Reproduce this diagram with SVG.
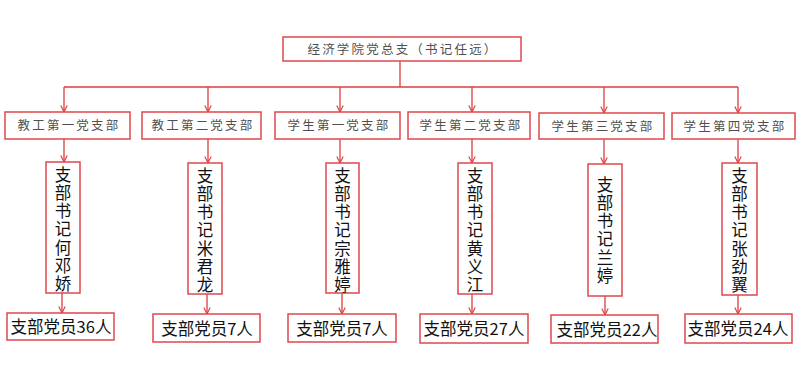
<svg xmlns="http://www.w3.org/2000/svg" width="797" height="378" viewBox="0 0 797 378">
<style>
.box{fill:#fff;stroke:#e0474c;stroke-width:1.5}
.ln{stroke:#dd3c40;stroke-width:1.3;fill:none}
.t1{font-family:"Noto Sans CJK SC","Noto Sans",sans-serif;font-size:12.5px;fill:#505050;letter-spacing:2.2px;text-anchor:middle}
.t2{font-family:"Noto Sans CJK SC","Liberation Sans",sans-serif;font-size:16.5px;fill:#111;text-anchor:middle}
.tv{font-family:"Noto Sans CJK SC","Liberation Sans",sans-serif;font-size:16.5px;fill:#111;writing-mode:vertical-rl;letter-spacing:1.8px}
</style>
<defs>
<marker id="ar" viewBox="0 0 10 10" refX="9" refY="5" markerWidth="8" markerHeight="8" orient="auto" markerUnits="userSpaceOnUse">
<path d="M1,1 L9,5 L1,9" fill="none" stroke="#dd3c40" stroke-width="1.4"/>
</marker>
</defs>
<g id="connectors">
<path class="ln" d="M400,61 V87 M64,87 H738"/>
<path class="ln" marker-end="url(#ar)" d="M64,87 V112"/>
<path class="ln" marker-end="url(#ar)" d="M208,87 V112"/>
<path class="ln" marker-end="url(#ar)" d="M340,87 V112"/>
<path class="ln" marker-end="url(#ar)" d="M472,87 V112"/>
<path class="ln" marker-end="url(#ar)" d="M604,87 V113"/>
<path class="ln" marker-end="url(#ar)" d="M738,87 V113"/>
<path class="ln" marker-end="url(#ar)" d="M64,139 V162"/>
<path class="ln" marker-end="url(#ar)" d="M208,139 V163"/>
<path class="ln" marker-end="url(#ar)" d="M340,139 V163"/>
<path class="ln" marker-end="url(#ar)" d="M472,139 V163"/>
<path class="ln" marker-end="url(#ar)" d="M604,139 V164"/>
<path class="ln" marker-end="url(#ar)" d="M738,139 V163"/>
<path class="ln" marker-end="url(#ar)" d="M62,293 V313"/>
<path class="ln" marker-end="url(#ar)" d="M207,294 V314"/>
<path class="ln" marker-end="url(#ar)" d="M342,293 V314"/>
<path class="ln" marker-end="url(#ar)" d="M472,294 V314"/>
<path class="ln" marker-end="url(#ar)" d="M605,296 V315"/>
<path class="ln" marker-end="url(#ar)" d="M738,295 V314"/>
</g>
<g id="root"><rect class="box" x="283" y="37" width="238" height="24"/><text class="t1" x="403" y="53.5">经济学院党总支（书记任远）</text></g>
<g id="b1"><rect class="box" x="5" y="112" width="125" height="27"/><text class="t1" x="69" y="130">教工第一党支部</text></g>
<g id="b2"><rect class="box" x="142" y="112" width="119" height="27"/><text class="t1" x="203" y="130">教工第二党支部</text></g>
<g id="b3"><rect class="box" x="275" y="112" width="125" height="27"/><text class="t1" x="339" y="130">学生第一党支部</text></g>
<g id="b4"><rect class="box" x="408" y="112" width="122" height="27"/><text class="t1" x="471" y="130">学生第二党支部</text></g>
<g id="b5"><rect class="box" x="539" y="113" width="125" height="26"/><text class="t1" x="603" y="131">学生第三党支部</text></g>
<g id="b6"><rect class="box" x="672" y="113" width="123" height="26"/><text class="t1" x="735" y="131">学生第四党支部</text></g>
<g id="s1"><rect class="box" x="46" y="162" width="34" height="131"/><text class="tv" x="63" y="166">支部书记何邓娇</text></g>
<g id="s2"><rect class="box" x="188" y="163" width="34" height="131"/><text class="tv" x="205" y="167">支部书记米君龙</text></g>
<g id="s3"><rect class="box" x="326" y="163" width="33" height="130"/><text class="tv" x="342.5" y="167">支部书记宗雅婷</text></g>
<g id="s4"><rect class="box" x="458" y="163" width="34" height="131"/><text class="tv" x="475" y="167">支部书记黄义江</text></g>
<g id="s5"><rect class="box" x="588" y="164" width="34" height="132"/><text class="tv" x="605" y="176">支部书记兰婷</text></g>
<g id="s6"><rect class="box" x="722" y="163" width="35" height="132"/><text class="tv" x="739.5" y="167">支部书记张劲翼</text></g>
<g id="m1"><rect class="box" x="7" y="313" width="107" height="27"/><text class="t2" x="61" y="333">支部党员36人</text></g>
<g id="m2"><rect class="box" x="153" y="314" width="107" height="28"/><text class="t2" x="207" y="335">支部党员7人</text></g>
<g id="m3"><rect class="box" x="288" y="314" width="108" height="28"/><text class="t2" x="342" y="335">支部党员7人</text></g>
<g id="m4"><rect class="box" x="420" y="314" width="108" height="29"/><text class="t2" x="474" y="335">支部党员27人</text></g>
<g id="m5"><rect class="box" x="551" y="315" width="107" height="28"/><text class="t2" x="607" y="336">支部党员22人</text></g>
<g id="m6"><rect class="box" x="685" y="314" width="107" height="29"/><text class="t2" x="738" y="335">支部党员24人</text></g>
</svg>
